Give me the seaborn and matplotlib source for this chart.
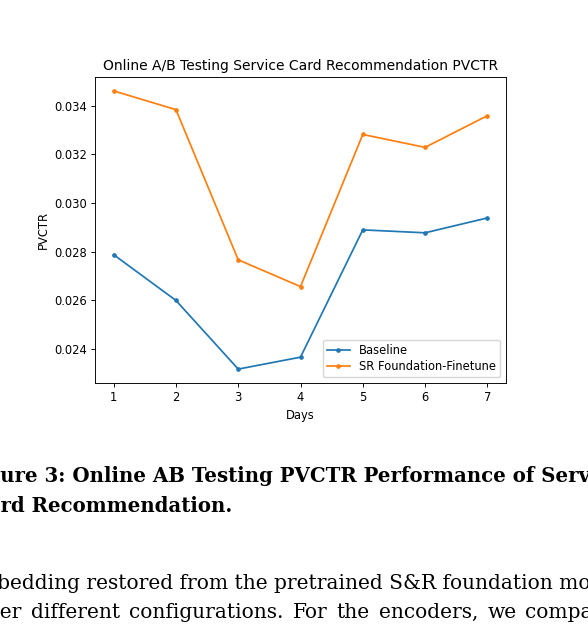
import seaborn as sns
import pandas as pd
import matplotlib.pyplot as plt

# Data
days = [1, 2, 3, 4, 5, 6, 7]
baseline = [0.02788, 0.02600, 0.02318, 0.02367, 0.02890, 0.02878, 0.02939]
sr_finetune = [0.03461, 0.03384, 0.02767, 0.02657, 0.03282, 0.03229, 0.03359]
series_names = ['Baseline', 'SR Foundation-Finetune']
series_colors = ['#1f77b4', '#ff7f0e']

title = 'Online A/B Testing Service Card Recommendation PVCTR'
x_label = 'Days'
y_label = 'PVCTR'

# page text around the figure, cut off at the edges of the screenshot
# (hidden prefix on the left, part that reaches the right edge, rest of line)
caption_lines = [('Fig', 'ure 3: Online AB Testing PVCTR Performance of Serv', 'ice'),
                 ('Ca', 'rd Recommendation.', '')]
body_lines = [('em', 'bedding restored from the pretrained S&R foundation mo', 'del'),
              ('und', 'er different configurations. For the encoders, we compa', 're')]

df = pd.DataFrame({'Days': days * 2,
                   'PVCTR': baseline + sr_finetune,
                   'Model': [series_names[0]] * 7 + [series_names[1]] * 7})

W, H = 588, 631
s = 0.83  # the plot was scaled down inside the page
fig = plt.figure(figsize=(W / 100, H / 100), dpi=100)
ax = fig.add_axes([95 / W, (H - 383) / H, 411 / W, 306 / H])

for name, color in zip(series_names, series_colors):
    sns.lineplot(data=df[df['Model'] == name], x='Days', y='PVCTR', ax=ax,
                 color=color, label=name, marker='.', markersize=6 * s,
                 markeredgecolor=color, markeredgewidth=1 * s, linewidth=1.5 * s)

ax.set_title(title, fontsize=12 * s, pad=6 * s)
ax.set_xlabel(x_label, fontsize=10 * s, labelpad=4 * s)
ax.set_ylabel(y_label, fontsize=10 * s, labelpad=4 * s)
ax.set_xticks(days)
ax.tick_params(labelsize=10 * s, length=3.5 * s, width=0.8 * s, pad=3.5 * s)
for sp in ax.spines.values():
    sp.set_linewidth(0.8 * s)
ax.legend(loc='lower right', fontsize=10 * s, framealpha=0.8,
          labelspacing=0.3, borderpad=0.35)

# caption and body text
renderer = fig.canvas.get_renderer()


def text_width(txt, **kw):
    probe = fig.text(0, 0, txt, **kw)
    w = probe.get_window_extent(renderer).width
    probe.remove()
    return w


def fit_size(prefix, visible, width_px, **kw):
    # font size at which the visible part spans width_px
    w = text_width(prefix + visible, fontsize=10, **kw) - text_width(prefix, fontsize=10, **kw)
    return 10 * width_px / w


def put_line(prefix, visible, rest, x_px, y_px, **kw):
    w = text_width(prefix, **kw)
    fig.text((x_px - w) / W, (H - y_px) / H, prefix + visible + rest,
             va='baseline', ha='left', **kw)


def put_justified(prefix, visible, rest, x_px, right_px, y_px, **kw):
    # word by word, stretching the spaces so the visible part ends at right_px
    words = (prefix + visible + rest).split(' ')
    last_visible = visible.split(' ')[-1]
    widths = [text_width(wd, **kw) for wd in words]
    x0 = x_px - text_width(prefix, **kw)
    gap = (right_px - text_width(last_visible, **kw) - x0 - sum(widths[:-1])) / (len(words) - 1)
    x = x0
    for wd, w in zip(words, widths):
        fig.text(x / W, (H - y_px) / H, wd, va='baseline', ha='left', **kw)
        x += w + gap


cap_kw = dict(family='DejaVu Serif', fontweight='bold')
body_kw = dict(family='DejaVu Serif')
cap_kw['fontsize'] = fit_size(*caption_lines[0][:2], 590, **cap_kw)
body_kw['fontsize'] = fit_size(*body_lines[0][:2], 594, **body_kw)

put_line(*caption_lines[0], 0, 482, **cap_kw)
put_line(*caption_lines[1], 0, 512, **cap_kw)
put_line(*body_lines[0], -3, 589, **body_kw)
put_justified(*body_lines[1], 0, 593, 618, **body_kw)

fig.savefig('out.png', dpi=100)
